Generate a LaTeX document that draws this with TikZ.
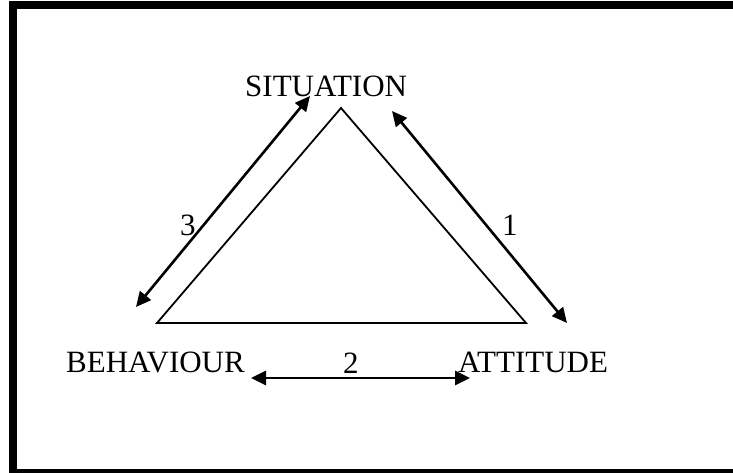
\documentclass[tikz,border=0pt]{standalone}
\usepackage{fontspec}
\setmainfont{Liberation Serif}
\usetikzlibrary{arrows.meta,positioning}

\begin{document}
\begin{tikzpicture}[
  x=1pt, y=-1pt,
  label/.style={inner sep=0pt, font=\fontsize{31}{33}\selectfont},
  num/.style={inner sep=0pt, font=\fontsize{31}{33}\selectfont},
  side/.style={line width=1.8pt, line join=miter},
  link/.style={{Triangle[length=15pt,width=14pt]}-{Triangle[length=15pt,width=14pt]}, line width=2.6pt}
]
\useasboundingbox (0,0) rectangle (733,473);
\clip (0,0) rectangle (733,473);
\draw[line width=8pt] (13,5) rectangle (745,473);
% triangle
\coordinate (top) at (341,108);
\coordinate (left) at (157,323);
\coordinate (right) at (526,323);
\draw[side] (top) -- (right) -- (left) -- cycle;
% labels
\node[label, anchor=base west] (sit) at (245,97) {SITUATION};
\node[label, anchor=base east] (beh) at (245,372) {BEHAVIOUR};
\node[label, anchor=base west] (att) at (458,372) {ATTITUDE};
\node[num, anchor=base west] (n3) at (180,235) {3};
\node[num, anchor=base west] (n1) at (502,235) {1};
\node[num, anchor=base west] (n2) at (343,373) {2};
% arrows
\coordinate (a3s) at (136,307);
\coordinate (a3e) at (310,96);
\coordinate (a1s) at (392,111);
\coordinate (a1e) at (567,323);
\coordinate (a2s) at (251,378);
\coordinate (a2e) at (470,378);
\draw[link] (a3s) -- (a3e);
\draw[link] (a1s) -- (a1e);
\draw[link] (a2s) -- (a2e);
\end{tikzpicture}
\end{document}
